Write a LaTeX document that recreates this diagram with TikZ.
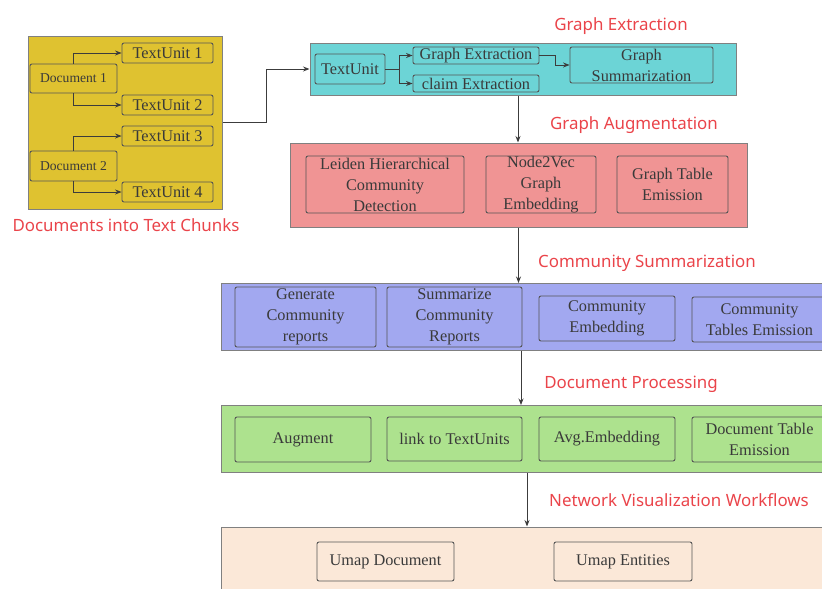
\documentclass[tikz,border=0pt]{standalone}
\usepackage{fontspec}
\setmainfont{Liberation Serif}
\newfontfamily\labfont{Noto Sans}
\usetikzlibrary{arrows.meta}
\definecolor{yel}{RGB}{223,194,48}
\definecolor{cyn}{RGB}{108,212,214}
\definecolor{pnk}{RGB}{240,148,148}
\definecolor{prp}{RGB}{162,168,240}
\definecolor{grn}{RGB}{173,226,142}
\definecolor{pch}{RGB}{251,232,216}
\definecolor{redlab}{RGB}{234,68,74}
\definecolor{txt}{RGB}{58,58,58}
\definecolor{outline}{RGB}{128,128,128}
\definecolor{inline}{RGB}{85,85,85}
\definecolor{conn}{RGB}{60,60,60}
\tikzset{
  outerbox/.style={draw=outline, line width=1pt, rectangle, inner sep=0pt},
  innerbox/.style={draw=inline, line width=0.9pt, rectangle, rounded corners=2pt, inner sep=0pt,
    align=center, text=txt, font=\fontsize{16.3}{21}\selectfont},
  docbox/.style={innerbox, font=\fontsize{13.6}{16}\selectfont},
  redlabel/.style={text=redlab, font=\labfont\fontsize{16.9}{20}\selectfont, anchor=base, inner sep=0pt},
  arr/.style={draw=conn, line width=0.9pt, -{Stealth[length=6.5pt,width=5pt]}},
}
\begin{document}
\begin{tikzpicture}[x=1pt,y=-1pt]
\useasboundingbox (0,0) rectangle (822,589);
\clip (0,0) rectangle (822,589);

% ---------- Documents into Text Chunks ----------
\node[outerbox, fill=yel, minimum width=194, minimum height=173] (yelbox) at (125,122.5) {};
\node[innerbox, minimum width=91, minimum height=20] (tu1) at (167.5,53) {TextUnit 1};
\node[innerbox, minimum width=91, minimum height=20] (tu2) at (167.5,105) {TextUnit 2};
\node[innerbox, minimum width=91, minimum height=20] (tu3) at (167.5,136) {TextUnit 3};
\node[innerbox, minimum width=91, minimum height=20] (tu4) at (167.5,192) {TextUnit 4};
\node[docbox, minimum width=87, minimum height=29] (doc1) at (73.5,78.5) {Document 1};
\node[docbox, minimum width=87, minimum height=30] (doc2) at (73.5,166) {Document 2};
\draw[arr] (doc1.north) |- (tu1.west);
\draw[arr] (doc1.south) |- (tu2.west);
\draw[arr] (doc2.north) |- (tu3.west);
\draw[arr] (doc2.south) |- (tu4.west);
\node[redlabel] (lab1) at (126,231) {Documents into Text Chunks};

% ---------- Graph Extraction ----------
\node[outerbox, fill=cyn, minimum width=426, minimum height=52] (cyan) at (523,69) {};
\node[innerbox, minimum width=70, minimum height=30] (tuc) at (350,69) {TextUnit};
\node[innerbox, minimum width=126, minimum height=17] (ge) at (476,55.5) {Graph Extraction};
\node[innerbox, minimum width=126, minimum height=17] (ce) at (476,83.5) {claim Extraction};
\node[innerbox, minimum width=143, minimum height=36] (gs) at (641.5,65) {Graph\\Summarization};
\coordinate (split) at (399,69);
\draw[arr] (tuc.east) -- (split) |- (ge.west);
\draw[arr] (split) |- (ce.west);
\draw[arr] (ge.east) -- ++(16,0) |- (gs.west);
\draw[arr] (yelbox.east) -- ++(44,0) |- (cyan.west);
\node[redlabel] (lab2) at (621,30) {Graph Extraction};

% ---------- Graph Augmentation ----------
\node[outerbox, fill=pnk, minimum width=457, minimum height=84] (pink) at (518.5,185) {};
\node[innerbox, minimum width=158, minimum height=57] (leiden) at (385,184.5) {Leiden Hierarchical\\Community\\Detection};
\node[innerbox, minimum width=110, minimum height=57] (n2v) at (541,184.5) {Node2Vec\\Graph\\Embedding};
\node[innerbox, minimum width=111, minimum height=57] (gte) at (672.5,184.5) {Graph Table\\Emission};
\draw[arr] ([xshift=-5pt]cyan.south) -- ([xshift=-5pt]cyan.south |- pink.north);
\node[redlabel] (lab3) at (634,129) {Graph Augmentation};

% ---------- Community Summarization ----------
\node[outerbox, fill=prp, minimum width=605, minimum height=66.5] (purple) at (524,316.75) {};
\node[innerbox, minimum width=141, minimum height=60] (gen) at (305.5,317) {Generate\\Community\\reports};
\node[innerbox, minimum width=135, minimum height=60] (sumr) at (454.5,317) {Summarize\\Community\\Reports};
\node[innerbox, minimum width=136, minimum height=45] (cemb) at (607,318.5) {Community\\Embedding};
\node[innerbox, minimum width=135, minimum height=45] (ctab) at (759.5,319.5) {Community\\Tables Emission};
\draw[arr] (pink.south) -- (pink.south |- purple.north);
\node[redlabel] (lab4) at (647,267) {Community Summarization};

% ---------- Document Processing ----------
\node[outerbox, fill=grn, minimum width=605, minimum height=66.5] (green) at (524,438.75) {};
\node[innerbox, minimum width=136, minimum height=45] (aug) at (303,439.5) {Augment};
\node[innerbox, minimum width=135, minimum height=44] (link) at (454.5,439) {link to TextUnits};
\node[innerbox, minimum width=136, minimum height=44] (avg) at (607,439) {Avg.Embedding};
\node[innerbox, minimum width=135, minimum height=45] (dte) at (759.5,439.5) {Document Table\\Emission};
\draw[arr] ([xshift=-3pt]purple.south) -- ([xshift=-3pt]purple.south |- green.north);
\node[redlabel] (lab5) at (631,388) {Document Processing};

% ---------- Network Visualization Workflows ----------
\node[outerbox, fill=pch, minimum width=605, minimum height=70] (peach) at (524,562) {};
\node[innerbox, minimum width=137, minimum height=39] (udoc) at (385.5,561.5) {Umap Document};
\node[innerbox, minimum width=138, minimum height=39] (uent) at (623,561.5) {Umap Entities};
\draw[arr] ([xshift=3pt]green.south) -- ([xshift=3pt]green.south |- peach.north);
\node[redlabel] (lab6) at (679,506) {Network Visualization Workflows};
\end{tikzpicture}
\end{document}
